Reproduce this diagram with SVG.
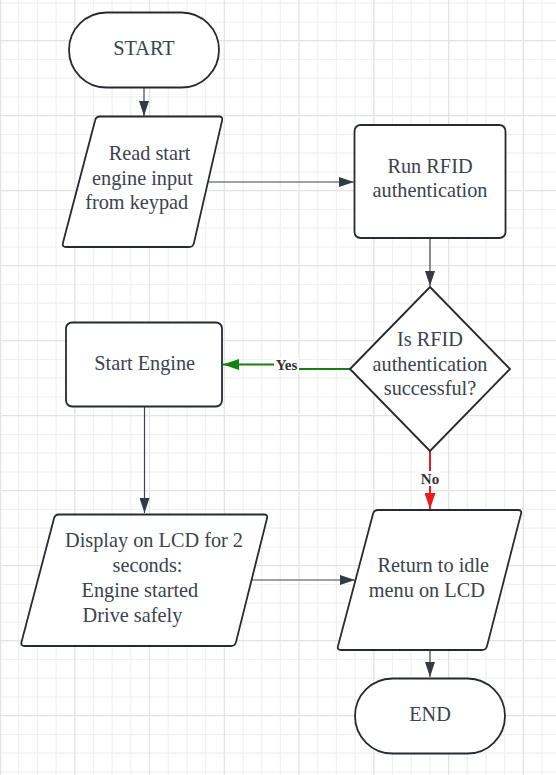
<svg xmlns="http://www.w3.org/2000/svg" width="556" height="775" viewBox="0 0 556 775">
<defs>
<style>
.gmin{stroke:#f0f0f0;stroke-width:1.2;fill:none}
.gmaj{stroke:#e3e3e3;stroke-width:1.3;fill:none}
.shape{fill:#ffffff;stroke:#262a31;stroke-width:1.8;stroke-linejoin:round}
.t{font-family:"Liberation Serif","Times New Roman",serif;font-size:20.3px;fill:#3b434e}
.lbl{font-family:"Liberation Serif","Times New Roman",serif;font-size:15px;font-weight:bold;fill:#333333}
.conn{fill:none;stroke:#3f4652;stroke-width:1.2}
.yes{fill:none;stroke:#128212;stroke-width:2}
.no{fill:none;stroke:#e81c1c;stroke-width:2}
</style>
<marker id="ah" markerUnits="userSpaceOnUse" markerWidth="15" markerHeight="10" refX="15" refY="5" orient="auto"><path d="M0,0 L15,5 L0,10 z" fill="#333a45"/></marker>
<marker id="ahg" markerUnits="userSpaceOnUse" markerWidth="16" markerHeight="11" refX="16" refY="5.5" orient="auto"><path d="M0,0 L16,5.5 L0,11 z" fill="#128212"/></marker>
<marker id="ahr" markerUnits="userSpaceOnUse" markerWidth="16" markerHeight="11" refX="16" refY="5.5" orient="auto"><path d="M0,0 L16,5.5 L0,11 z" fill="#e81c1c"/></marker>
</defs>
<rect x="0" y="0" width="556" height="775" fill="#ffffff"/>
<g id="grid">
<path class="gmin" d="M18.7,0V775M37.4,0V775M56.1,0V775M93.5,0V775M112.1,0V775M130.8,0V775M168.2,0V775M186.9,0V775M205.6,0V775M243,0V775M261.7,0V775M280.4,0V775M317.7,0V775M336.4,0V775M355.1,0V775M392.5,0V775M411.2,0V775M429.9,0V775M467.3,0V775M485.9,0V775M504.6,0V775M542,0V775
M0,3.2H556M0,22H556M0,59.5H556M0,78.2H556M0,97H556M0,134.5H556M0,153.2H556M0,172H556M0,209.5H556M0,228.2H556M0,247H556M0,284.5H556M0,303.2H556M0,322H556M0,359.5H556M0,378.2H556M0,397H556M0,434.5H556M0,453.2H556M0,472H556M0,509.5H556M0,528.2H556M0,547H556M0,584.5H556M0,603.2H556M0,622H556M0,659.5H556M0,678.2H556M0,697H556M0,734.5H556M0,753.2H556M0,772H556"/>
<path class="gmaj" d="M0.5,0V775M74.8,0V775M149.5,0V775M224.3,0V775M299,0V775M373.8,0V775M448.6,0V775M523.3,0V775
M0,40.7H556M0,115.7H556M0,190.7H556M0,265.7H556M0,340.7H556M0,415.7H556M0,490.7H556M0,565.7H556M0,640.7H556M0,715.7H556"/>
</g>
<g id="connectors">
<path class="conn" d="M144,88V116" marker-end="url(#ah)"/>
<path class="conn" d="M208,182H354" marker-end="url(#ah)"/>
<path class="conn" d="M430,238V286" marker-end="url(#ah)"/>
<path class="yes" d="M350,369H287V364.5H223" marker-end="url(#ahg)"/>
<path class="no" d="M430,451V509" marker-end="url(#ahr)"/>
<path class="conn" d="M144.5,407V513" marker-end="url(#ah)"/>
<path class="conn" d="M252,580H355" marker-end="url(#ah)"/>
<path class="conn" d="M430,650V677" marker-end="url(#ah)"/>
<rect x="274" y="358" width="25" height="14" fill="#ffffff"/>
<text class="lbl" x="286.5" y="370" text-anchor="middle">Yes</text>
<rect x="420" y="471" width="20" height="15" fill="#ffffff"/>
<text class="lbl" x="430" y="484" text-anchor="middle">No</text>
</g>
<g id="start">
<rect class="shape" x="69" y="12.5" width="150" height="75" rx="37.5"/>
<text class="t" x="144" y="55" text-anchor="middle">START</text>
</g>
<g id="read-input">
<path class="shape" d="M100,116.5 H219 Q223,116.5 222.1,120.4 L193.9,243.1 Q193,247 189,247 H66 Q62,247 62.9,243.1 L95.1,120.4 Q96,116.5 100,116.5 Z"/>
<text class="t" text-anchor="middle"><tspan x="149.5" y="160">Read start</tspan><tspan x="142.5" y="185">engine input</tspan><tspan x="136.7" y="209">from keypad</tspan></text>
</g>
<g id="run-rfid">
<rect class="shape" x="354.5" y="125" width="151" height="113" rx="6"/>
<text class="t" text-anchor="middle"><tspan x="430" y="173">Run RFID</tspan><tspan x="430" y="197">authentication</tspan></text>
</g>
<g id="decision">
<polygon class="shape" points="430,287 510,369 430,451 350,369"/>
<text class="t" text-anchor="middle"><tspan x="430" y="345.5">Is RFID</tspan><tspan x="430" y="370.5">authentication</tspan><tspan x="430" y="395">successful?</tspan></text>
</g>
<g id="start-engine">
<rect class="shape" x="66" y="322.5" width="156" height="84" rx="6"/>
<text class="t" x="144.7" y="370" text-anchor="middle">Start Engine</text>
</g>
<g id="display">
<path class="shape" d="M59,514.5 H264 Q268,514.5 267,518.4 L236,642.1 Q235,646 231,646 H24.5 Q20.5,646 21.5,642.1 L54,518.4 Q55,514.5 59,514.5 Z"/>
<text class="t"><tspan x="154" y="547.3" text-anchor="middle">Display on LCD for 2</tspan><tspan x="147.5" y="571.7" text-anchor="middle">seconds:</tspan><tspan x="81.6" y="596.7">Engine started</tspan><tspan x="82.6" y="621.7">Drive safely</tspan></text>
</g>
<g id="return-idle">
<path class="shape" d="M378,510 H518 Q522,510 521,513.9 L487,646.1 Q486,650 482,650 H341 Q337,650 338,646.1 L373,513.9 Q374,510 378,510 Z"/>
<text class="t" text-anchor="middle"><tspan x="433.3" y="571.7">Return to idle</tspan><tspan x="426.8" y="596.7">menu on LCD</tspan></text>
</g>
<g id="end">
<rect class="shape" x="355" y="678.5" width="150" height="75" rx="37.5"/>
<text class="t" x="430" y="720.7" text-anchor="middle">END</text>
</g>
</svg>
